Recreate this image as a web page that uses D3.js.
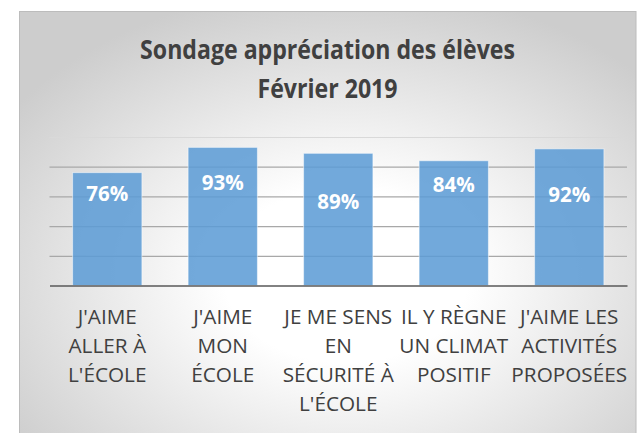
<!DOCTYPE html>
<html>
<head>
<meta charset="utf-8">
<script src="https://cdn.jsdelivr.net/npm/d3@7"></script>
<style>
  html, body { margin: 0; padding: 0; background: #ffffff; }
  svg { display: block; }
</style>
</head>
<body>
<svg id="chart" width="637" height="433"></svg>
<script>
// ---------- DATA ----------
const categories = [
  "J'AIME ALLER À L'ÉCOLE",
  "J'AIME MON ÉCOLE",
  "JE ME SENS EN SÉCURITÉ À L'ÉCOLE",
  "IL Y RÈGNE UN CLIMAT POSITIF",
  "J'AIME LES ACTIVITÉS PROPOSÉES"
];
// how each category label wraps in the reference
const categoryLines = [
  ["J'AIME", "ALLER À", "L'ÉCOLE"],
  ["J'AIME", "MON", "ÉCOLE"],
  ["JE ME SENS", "EN", "SÉCURITÉ À", "L'ÉCOLE"],
  ["IL Y RÈGNE", "UN CLIMAT", "POSITIF"],
  ["J'AIME LES", "ACTIVITÉS", "PROPOSÉES"]
];
const values = [0.76, 0.93, 0.89, 0.84, 0.92];
const yTicks = [0, 0.2, 0.4, 0.6, 0.8, 1.0];
const titleLines = ["Sondage appréciation des élèves", "Février 2019"];

// ---------- LAYOUT ----------
const W = 637, H = 433;
const plot = { left: 49.5, right: 627, top: 137, bottom: 285.5 };
const labelDrop = [28.5, 42.5, 56, 31.5, 53.5]; // data label baseline below bar top (manually placed in reference)
const FONT = "'Open Sans', 'Noto Sans', sans-serif";

const svg = d3.select("#chart");
const defs = svg.append("defs");
const grad = defs.append("radialGradient")
  .attr("id", "bg")
  .attr("cx", "0.53").attr("cy", "0.6").attr("r", "0.66")
  .attr("fx", "0.53").attr("fy", "0.6");
grad.append("stop").attr("offset", "0").attr("stop-color", "#ffffff");
grad.append("stop").attr("offset", "0.3").attr("stop-color", "#ffffff");
grad.append("stop").attr("offset", "1").attr("stop-color", "#cdcdcd");

// chart frame
svg.append("rect")
  .attr("x", 19.5).attr("y", 11.5)
  .attr("width", 616.5).attr("height", 440)
  .attr("fill", "url(#bg)")
  .attr("stroke", "#bcbcbc").attr("stroke-width", 1);

// scales
const x = d3.scaleBand()
  .domain(categories)
  .range([plot.left, plot.right])
  .paddingInner(0.4)
  .paddingOuter(0.2);
const y = d3.scaleLinear().domain([0, 1]).range([plot.bottom, plot.top]);

// gridlines via axis
const grid = svg.append("g")
  .attr("transform", `translate(${plot.left},0)`)
  .call(d3.axisLeft(y).tickValues(yTicks).tickSize(-(plot.right - plot.left)).tickFormat(""));
grid.select(".domain").remove();
grid.selectAll(".tick line")
  .attr("stroke", d => d === 1 ? "#d9d9d9" : "#a8a8a8")
  .attr("stroke-width", 1.2)
  .attr("opacity", d => d === 0 ? 0 : 1);

// bars
svg.append("g").selectAll("rect")
  .data(values)
  .join("rect")
  .attr("x", (d, i) => x(categories[i]))
  .attr("width", x.bandwidth())
  .attr("y", d => y(d))
  .attr("height", d => y(0) - y(d))
  .attr("fill", "#5b9bd5")
  .attr("fill-opacity", 0.86)
  .attr("stroke", "#ffffff")
  .attr("stroke-opacity", 0.5)
  .attr("stroke-width", 1);

// baseline axis
const xAxis = svg.append("g")
  .attr("transform", `translate(0,${y(0)})`)
  .call(d3.axisBottom(x).tickSize(0).tickFormat(""));
xAxis.select(".domain").attr("stroke", "#595959").attr("stroke-width", 1.5);

function addText(g, str, cx, baseline, size, weight, color) {
  const gg = g.append("g").attr("transform", `translate(${cx},${baseline})`);
  const t = gg.append("text")
    .attr("text-anchor", "middle")
    .attr("font-family", FONT)
    .attr("font-size", size)
    .attr("font-weight", weight)
    .attr("fill", color)
    .text(str);
  return t;
}

// data labels
const lblG = svg.append("g");
const lblItems = values.map((v, i) =>
  addText(lblG, d3.format(".0%")(v), x(categories[i]) + x.bandwidth() / 2, y(v) + labelDrop[i], 21, "bold", "#ffffff"));
const sxBold = 42 / lblItems[0].node().getComputedTextLength();
lblItems.forEach(t => t.attr("transform", `scale(${sxBold},1)`));

// category labels
const catG = svg.append("g");
const catItems = [];
categoryLines.forEach((lines, i) => {
  lines.forEach((ln, j) => {
    catItems.push(addText(catG, ln, x(categories[i]) + x.bandwidth() / 2, 324 + j * 29, 20, "normal", "#404040"));
  });
});
// calibrate compression so "JE ME SENS" ~ 108px wide (narrow font in reference)
const sxReg = 108 / catItems[6].node().getComputedTextLength();
catItems.forEach(t => t.attr("transform", `scale(${sxReg},1)`));

// title
const titleG = svg.append("g");
const tItems = titleLines.map((ln, j) => addText(titleG, ln, 327.5, 59 + j * 39, 26.5, "bold", "#404040"));
const sxTitle = 375 / tItems[0].node().getComputedTextLength();
tItems.forEach(t => t.attr("transform", `scale(${sxTitle},1)`));
</script>
</body>
</html>
